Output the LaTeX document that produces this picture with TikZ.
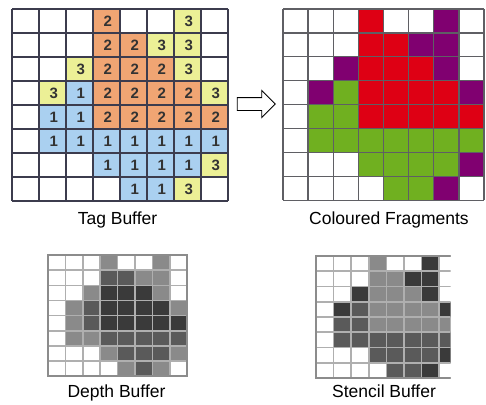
\documentclass[tikz,border=0pt]{standalone}
\usepackage{fontspec}
\setmainfont{Liberation Sans}
\usetikzlibrary{shapes.arrows}

\definecolor{tag0}{RGB}{255,255,255}
\definecolor{tag1}{RGB}{170,208,240}
\definecolor{tag2}{RGB}{240,165,115}
\definecolor{tag3}{RGB}{236,240,150}
\definecolor{frag0}{RGB}{255,255,255}
\definecolor{frag1}{RGB}{112,176,32}
\definecolor{frag2}{RGB}{222,0,20}
\definecolor{frag3}{RGB}{128,0,112}
\definecolor{grey0}{RGB}{255,255,255}
\definecolor{grey1}{RGB}{90,90,90}
\definecolor{grey2}{RGB}{138,138,138}
\definecolor{grey3}{RGB}{58,58,58}
\definecolor{tagedge}{RGB}{60,60,78}
\definecolor{fragedge}{RGB}{95,95,100}
\definecolor{bufedge}{RGB}{175,175,175}

\def\tagrows{{0,0,0,2,0,0,3,0},{0,0,0,2,2,3,3,0},{0,0,3,2,2,2,3,0},{0,3,1,2,2,2,2,3},
{0,1,1,2,2,2,2,2},{0,1,1,1,1,1,1,1},{0,0,0,1,1,1,1,3},{0,0,0,0,1,1,3,0}}
% depth levels: 0 white, 2 light, 1 mid, 3 dark
\def\depthrows{{0,0,0,2,0,0,2,0},{0,0,0,1,1,2,2,0},{0,0,2,3,3,3,2,0},{0,2,1,3,3,3,3,2},
{0,2,1,3,3,3,3,3},{0,2,2,1,1,1,1,1},{0,0,0,2,1,1,1,2},{0,0,0,0,2,1,2,0}}

\begin{document}
\begin{tikzpicture}[x=1pt,y=-1pt,
		every node/.style = {font=\fontsize{17.5}{20}\selectfont}]

\tikzstyle{digit}=[font=\fontsize{15}{17}\selectfont\bfseries, text=black!80, inner sep=0pt]
\tikzstyle{bufname}=[anchor=base, inner sep=0pt]
\tikzstyle{tagline}=[draw=tagedge, line width=1.3pt]
\tikzstyle{fragline}=[draw=fragedge, line width=1.3pt]
\tikzstyle{bufline}=[draw=bufedge, line width=1.6pt]
\tikzstyle{hollow_arrow}=[single arrow, draw, fill=white, line width=0.9pt, inner sep=0pt,
		minimum height=38pt, single arrow head extend=7pt, text height=12pt]

\useasboundingbox (0,0) rectangle (486,404);

\begin{scope}[shift={(12,9)},x=27pt,y=-24pt]
	\foreach \row [count=\r from 0] in \tagrows
		\foreach \v [count=\c from 0] in \row {
			\fill[tag\v] (\c,\r) rectangle ++(1,1);
			\ifnum\v>0 \node[digit] (t-\r-\c) at (\c+0.55,\r+0.5) {\v};\fi
		}
	\foreach \i in {0,...,8}
		\draw[tagline] (\i,0) -- (\i,8) (0,\i) -- (8,\i);
\end{scope}

\begin{scope}[shift={(283,9)},x=25.125pt,y=-23.9pt]
	\foreach \row [count=\r from 0] in \tagrows
		\foreach \v [count=\c from 0] in \row
			\fill[frag\v] (\c,\r) rectangle ++(1,1);
	\foreach \i in {0,...,8}
		\draw[fragline] (\i,0) -- (\i,8) (0,\i) -- (8,\i);
\end{scope}

\begin{scope}[shift={(48,255)},x=17.4pt,y=-15.15pt]
	\foreach \row [count=\r from 0] in \depthrows
		\foreach \v [count=\c from 0] in \row
			\fill[grey\v] (\c,\r) rectangle ++(1,1);
	\foreach \i in {0,...,8}
		\draw[bufline] (\i,0) -- (\i,8) (0,\i) -- (8,\i);
	\draw[draw=black!45, line width=2pt] (0,0) rectangle (8,8);
\end{scope}

\begin{scope}
	\clip (300,240) rectangle (450.5,390);
	\begin{scope}[shift={(316,256)},x=17.6pt,y=-15.25pt]
		\foreach \row [count=\r from 0] in \tagrows
			\foreach \v [count=\c from 0] in \row
				\fill[grey\v] (\c,\r) rectangle ++(1,1);
		\foreach \i in {0,...,8}
			\draw[bufline] (\i,0) -- (\i,8) (0,\i) -- (8,\i);
		\draw[draw=black!45, line width=2pt] (0,0) rectangle (8,8);
	\end{scope}
\end{scope}

\node[hollow_arrow] (step_arrow) at (253,104) {};

\node[bufname] (tag_name) at (117.5,224) {Tag Buffer};
\node[bufname] (frag_name) at (389,224) {Coloured Fragments};
\node[bufname] (depth_name) at (116.5,397) {Depth Buffer};
\node[bufname] (stencil_name) at (384,397) {Stencil Buffer};
\end{tikzpicture}
\end{document}
